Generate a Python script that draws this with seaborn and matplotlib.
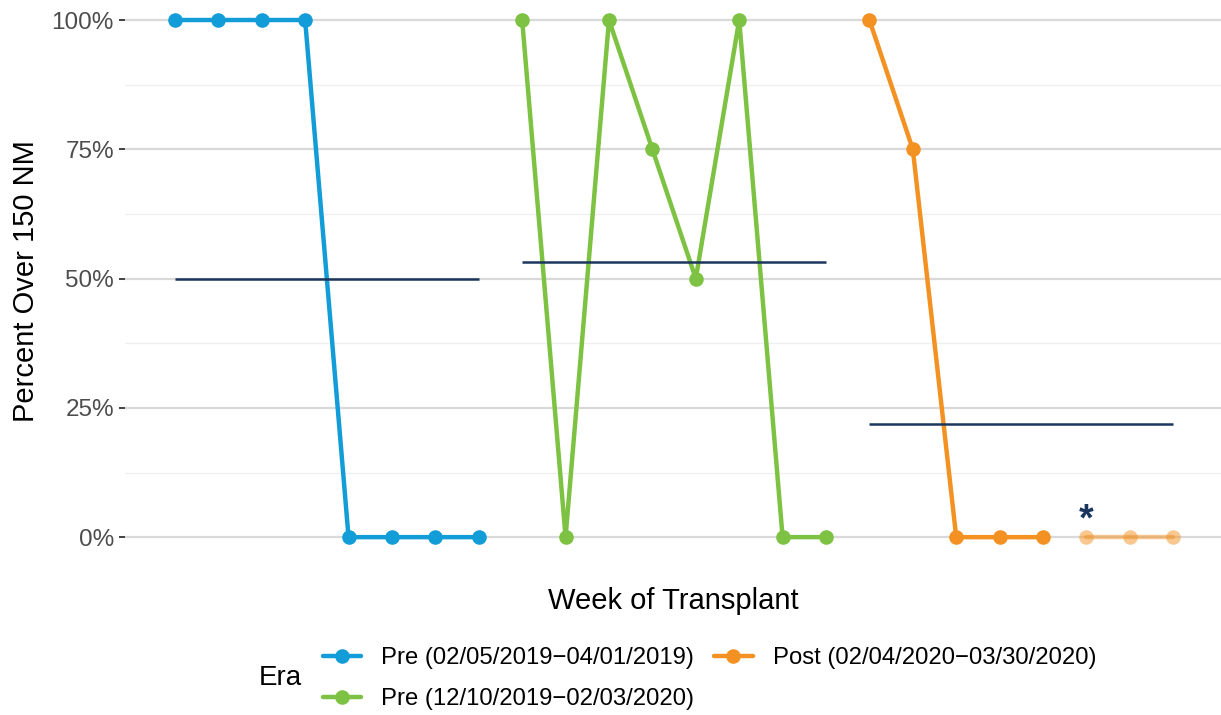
import numpy as np
import pandas as pd
import matplotlib
matplotlib.use("Agg")
import matplotlib.pyplot as plt
import seaborn as sns
from matplotlib.lines import Line2D
from matplotlib.ticker import FixedLocator

# data
eras = ["Pre (02/05/2019\u221204/01/2019)",
        "Pre (12/10/2019\u221202/03/2020)",
        "Post (02/04/2020\u221203/30/2020)"]
colors = ["#139dd8", "#7dc242", "#f39222"]
week = list(range(1, 25))
pct_over = [100, 100, 100, 100, 0, 0, 0, 0,
            100, 0, 100, 75, 50, 100, 0, 0,
            100, 75, 0, 0, 0, 0, 0, 0]
era_of_week = [eras[0]] * 8 + [eras[1]] * 8 + [eras[2]] * 8
# last weeks of post era are shown faded (incomplete)
faded = [False] * 21 + [True] * 3
star_week = 22
star_y = 3.3

df = pd.DataFrame({"week": week, "pct": pct_over, "era": era_of_week, "faded": faded})

sns.set_theme(style="white")
plt.rcParams['font.family'] = ['Liberation Sans', 'DejaVu Sans']
plt.rcParams['text.color'] = 'black'

fig = plt.figure(figsize=(12.21, 7.15), dpi=100)
ax = fig.add_axes([125 / 1221, (715 - 563) / 715, (1221 - 125) / 1221, 563 / 715])

pal = dict(zip(eras, colors))
solid = df[~df["faded"]]
light = df[df["faded"]]
sns.lineplot(data=solid, x="week", y="pct", hue="era", palette=pal, marker="o",
             markersize=10.5, markeredgewidth=0, linewidth=3.2, legend=False, ax=ax, zorder=3)
sns.lineplot(data=light, x="week", y="pct", hue="era", palette=pal, marker="o",
             markersize=10.5, markeredgewidth=0, linewidth=3.2, alpha=0.5, legend=False, ax=ax, zorder=3)

# mean line per era
for e in eras:
    sub = df[df["era"] == e]
    ax.hlines(sub["pct"].mean(), sub["week"].min(), sub["week"].max(),
              color="#1b365d", linewidth=1.8, zorder=4)

ax.text(star_week, star_y, "*", color="#1b365d", fontsize=27, fontweight="bold",
        ha="center", va="center")

ax.set_xlim(-0.15, 25.1)
ax.set_ylim(-5, 103.87)
ax.set_yticks([0, 25, 50, 75, 100])
ax.set_yticklabels(["0%", "25%", "50%", "75%", "100%"])
ax.yaxis.set_minor_locator(FixedLocator([12.5, 37.5, 62.5, 87.5]))
ax.set_xticks([])
ax.grid(axis="y", which="major", color="#d9d9d9", linewidth=1.6, zorder=0)
ax.grid(axis="y", which="minor", color="#efefef", linewidth=0.9, zorder=0)
ax.grid(axis="x", visible=False)
for s in ax.spines.values():
    s.set_visible(False)
ax.tick_params(axis="y", which="major", length=4, width=1.3, color="#333333",
               labelsize=17.5, labelcolor="#4d4d4d", pad=4, left=True)
ax.tick_params(axis="y", which="minor", length=0)
ax.set_xlabel("Week of Transplant", fontsize=21, labelpad=17, color="black")
ax.set_ylabel("Percent Over 150 NM", fontsize=21, labelpad=8, color="black")

handles = [Line2D([0], [0], color=c, linewidth=3.2, marker="o", markersize=10.5,
                  markeredgewidth=0) for c in colors]
fig.legend(handles, eras, ncol=2, frameon=False, loc="upper left",
           bbox_to_anchor=(323 / 1221, 1 - 647 / 715), fontsize=17.2,
           handlelength=1.6, handletextpad=0.84, columnspacing=0.84,
           labelspacing=0.8, borderpad=0, borderaxespad=0, labelcolor="black")
fig.text(259 / 1221, 1 - 678 / 715, "Era", fontsize=20, va="center", ha="left",
         color="black")

fig.savefig("out.png", dpi=100)
